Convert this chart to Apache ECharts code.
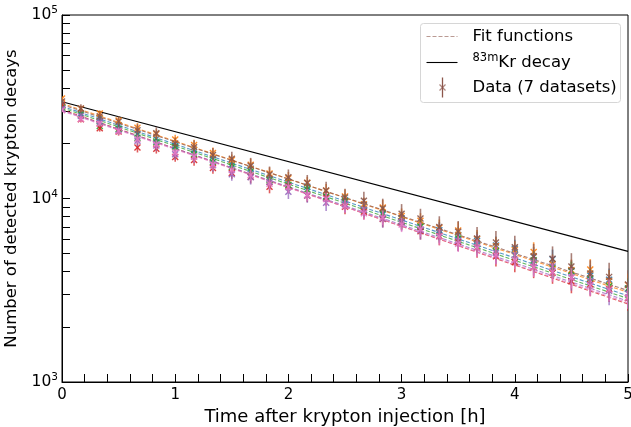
<!DOCTYPE html>
<html>
<head>
<meta charset="utf-8">
<script src="https://cdn.jsdelivr.net/npm/echarts@6/dist/echarts.min.js"></script>
<style>
html,body{margin:0;padding:0;background:#fff;}
#chart{width:631px;height:427px;}
</style>
</head>
<body>
<div id="chart"></div>
<script>
// ---- data ----
var times = [0, 0.1667, 0.3333, 0.5, 0.6667, 0.8333, 1, 1.1667, 1.3333, 1.5, 1.6667, 1.8333, 2, 2.1667, 2.3333, 2.5, 2.6667, 2.8333, 3, 3.1667, 3.3333, 3.5, 3.6667, 3.8333, 4, 4.1667, 4.3333, 4.5, 4.6667, 4.8333, 5];

var dataBlue   = [32440, 29080, 27410, 25070, 22470, 21180, 19370, 18440, 16360, 15270, 14540, 12770, 12290, 11580, 10270, 9780, 9220, 8180, 7790, 7050, 6710, 6320, 5890, 5550, 5320, 4820, 4660, 4040, 3800, 3610, 3220];
var dataOrange = [35060, 30860, 29070, 26590, 24330, 22470, 20970, 19560, 17720, 16210, 15270, 13690, 12910, 12150, 11010, 10270, 9300, 8940, 8020, 7560, 6920, 6700, 6010, 5500, 5240, 5110, 4380, 4080, 4100, 3550, 3380];
var dataGreen  = [31310, 28640, 24870, 23950, 21450, 20230, 19080, 17440, 15790, 14890, 14030, 12580, 11860, 11180, 10220, 9630, 8630, 8300, 7520, 7020, 6480, 6050, 5640, 5160, 4910, 4610, 4190, 4020, 3670, 3330, 3230];
var dataRed    = [32330, 27000, 24110, 23180, 18950, 18690, 16850, 16220, 14650, 13790, 13120, 11600, 11620, 10390, 10060, 9010, 8470, 7740, 7480, 6640, 6240, 5810, 5410, 4840, 4500, 4230, 3940, 3540, 3410, 3210, 2870];
var dataPurple = [30800, 28170, 26270, 23530, 20630, 19460, 17410, 16930, 15160, 13550, 13060, 12310, 10900, 10390, 9490, 9310, 8680, 7790, 7480, 6710, 6500, 5890, 5650, 5070, 4910, 4440, 4260, 3720, 3530, 3140, 3040];
var dataBrown  = [33800, 30970, 28100, 26240, 23570, 22690, 19970, 19040, 17270, 16460, 15080, 13530, 13040, 12170, 11050, 10120, 9730, 8830, 8250, 7780, 7000, 6590, 6050, 5760, 5420, 4840, 4690, 4260, 3900, 3740, 3400];
var dataPink   = [30300, 27140, 25550, 23340, 21110, 19680, 17790, 16930, 15310, 14280, 13440, 12040, 11560, 10460, 9950, 9090, 8300, 7890, 7210, 6790, 6200, 5670, 5390, 4920, 4630, 4230, 3980, 3700, 3360, 3180, 2890];

// relative uncertainty (%) per time bin, and per-dataset scale of the bar length
var relErrPct = [3, 4, 4, 5, 6, 6, 6, 7, 7, 7, 8, 8, 8, 8, 9, 9, 9, 10, 10, 10, 11, 11, 12, 12, 12, 13, 13, 14, 14, 15, 15];
var errScale  = [1.0, 1.0, 0.9, 1.0, 1.1, 1.3, 0.9];

// fit functions: value at t = 0 h and at t = 5 h (straight on a log axis)
var fitStart = [31800, 33000, 31200, 30500, 30200, 32500, 30000];
var fitEnd   = [2950, 3080, 2850, 2660, 2760, 3150, 2700];

// 83mKr decay reference curve: endpoints
var krTimes  = [0, 5];
var krValues = [33700, 5150];

var datasetNames = ['Dataset 1', 'Dataset 2', 'Dataset 3', 'Dataset 4', 'Dataset 5', 'Dataset 6', 'Dataset 7'];
var xLabelTicks = [0, 1, 2, 3, 4, 5];
var xMinorTicks = [0, 0.2, 0.4, 0.6, 0.8, 1, 1.2, 1.4, 1.6, 1.8, 2, 2.2, 2.4, 2.6, 2.8, 3, 3.2, 3.4, 3.6, 3.8, 4, 4.2, 4.4, 4.6, 4.8, 5];
var yLabelTicks = [1000, 10000, 100000];
var yAllTicks = [1000, 2000, 3000, 4000, 5000, 6000, 7000, 8000, 9000, 10000, 20000, 30000, 40000, 50000, 60000, 70000, 80000, 90000, 100000];

// ---- styling ----
var colors = ['#1f77b4', '#ff7f0e', '#2ca02c', '#d62728', '#9467bd', '#8c564b', '#e377c2'];
var FONT = 'DejaVu Sans';

var allData = [dataBlue, dataOrange, dataGreen, dataRed, dataPurple, dataBrown, dataPink];

var series = [];

// fit lines
allData.forEach(function (d, i) {
  series.push({
    type: 'line',
    name: 'fit ' + datasetNames[i],
    data: [[0, fitStart[i]], [5, fitEnd[i]]],
    showSymbol: false,
    symbol: 'none',
    silent: true,
    z: 2,
    lineStyle: { color: colors[i], width: 1.1, type: [4, 2], opacity: 0.75 }
  });
});

// Kr decay line
series.push({
  type: 'line',
  name: '83mKr decay',
  data: krTimes.map(function (t, k) { return [t, krValues[k]]; }),
  showSymbol: false,
  symbol: 'none',
  silent: true,
  z: 3,
  lineStyle: { color: '#000', width: 1.1 }
});

// data with error bars
allData.forEach(function (d, i) {
  var items = d.map(function (v, k) {
    var e = v * relErrPct[k] / 100 * errScale[i];
    return [times[k], v, v - e, v + e];
  });
  series.push({
    type: 'custom',
    name: datasetNames[i],
    data: items,
    z: 4,
    clip: true,
    encode: { x: 0, y: 1 },
    renderItem: function (params, api) {
      var c = api.coord([api.value(0), api.value(1)]);
      var lo = api.coord([api.value(0), api.value(2)]);
      var hi = api.coord([api.value(0), api.value(3)]);
      var s = 3;
      var col = colors[i];
      return {
        type: 'group',
        children: [
          { type: 'line', shape: { x1: lo[0], y1: lo[1], x2: hi[0], y2: hi[1] },
            style: { stroke: col, lineWidth: 1.6, opacity: 0.75 } },
          { type: 'line', shape: { x1: c[0] - s, y1: c[1] - s, x2: c[0] + s, y2: c[1] + s },
            style: { stroke: col, lineWidth: 1.4, opacity: 0.9 } },
          { type: 'line', shape: { x1: c[0] - s, y1: c[1] + s, x2: c[0] + s, y2: c[1] - s },
            style: { stroke: col, lineWidth: 1.4, opacity: 0.9 } }
        ]
      };
    }
  });
});

var legendX = 420, legendY = 23;
var option = {
  animation: false,
  backgroundColor: '#fff',
  textStyle: { fontFamily: FONT },
  grid: { left: 62, right: 3, top: 15, bottom: 45, outerBoundsMode: 'none', containLabel: false,
          show: true, borderColor: '#000', borderWidth: 1, backgroundColor: 'transparent' },
  xAxis: {
    type: 'value', min: 0, max: 5, interval: 1,
    name: 'Time after krypton injection [h]',
    nameLocation: 'middle', nameGap: 20,
    nameTextStyle: { fontSize: 18, color: '#000', fontFamily: FONT },
    axisLine: { show: true, lineStyle: { color: '#000', width: 1 } },
    axisTick: { show: true, inside: true, length: 8, customValues: xMinorTicks, lineStyle: { color: '#000', width: 1 } },
    axisLabel: { show: true, customValues: xLabelTicks, fontSize: 15, color: '#000', margin: 6, fontFamily: FONT },
    splitLine: { show: false }
  },
  yAxis: {
    type: 'log', logBase: 10, min: 1000, max: 100000,
    name: 'Number of detected krypton decays',
    nameLocation: 'middle', nameGap: 36, nameRotate: 90,
    nameTextStyle: { fontSize: 16.5, color: '#000', fontFamily: FONT },
    axisLine: { show: true, lineStyle: { color: '#000', width: 1 } },
    axisTick: { show: true, inside: true, length: 8, customValues: yAllTicks, lineStyle: { color: '#000', width: 1 } },
    axisLabel: {
      show: true, customValues: yLabelTicks, margin: 4, color: '#000',
      formatter: function (v) {
        var e = Math.round(Math.log10(v));
        return '{b|10}{s|' + e + '}';
      },
      rich: {
        b: { fontSize: 15.5, color: '#000', fontFamily: FONT },
        s: { fontSize: 10.5, color: '#000', fontFamily: FONT, padding: [0, 0, 9, 0] }
      }
    },
    splitLine: { show: false }
  },
  series: series,
  graphic: [
    {
      type: 'group', left: legendX, top: legendY,
      children: [
        { type: 'rect', shape: { x: 0, y: 0, width: 200, height: 79, r: 3 },
          style: { fill: 'rgba(255,255,255,0.85)', stroke: '#d6d6d6', lineWidth: 1 } },
        { type: 'line', shape: { x1: 6, y1: 13, x2: 37, y2: 13 },
          style: { stroke: '#8c564b', lineWidth: 1.1, lineDash: [4, 2], opacity: 0.6 } },
        { type: 'text', x: 52, y: 13,
          style: { text: 'Fit functions', fontSize: 16.5, fontFamily: FONT, fill: '#000', verticalAlign: 'middle' } },
        { type: 'line', shape: { x1: 6, y1: 39, x2: 37, y2: 39 },
          style: { stroke: '#000', lineWidth: 1.1 } },
        { type: 'text', x: 52, y: 39,
          style: {
            text: '{s|83m}{n|Kr decay}', verticalAlign: 'middle',
            rich: {
              s: { fontSize: 11.5, fontFamily: FONT, fill: '#000', padding: [0, 0, 9, 0] },
              n: { fontSize: 16.5, fontFamily: FONT, fill: '#000' }
            }
          } },
        { type: 'line', shape: { x1: 22, y1: 54, x2: 22, y2: 74 },
          style: { stroke: '#8c564b', lineWidth: 1.3 } },
        { type: 'line', shape: { x1: 19, y1: 61, x2: 25, y2: 67 },
          style: { stroke: '#8c564b', lineWidth: 1.3, opacity: 0.7 } },
        { type: 'line', shape: { x1: 19, y1: 67, x2: 25, y2: 61 },
          style: { stroke: '#8c564b', lineWidth: 1.3, opacity: 0.7 } },
        { type: 'text', x: 52, y: 64,
          style: { text: 'Data (7 datasets)', fontSize: 16.5, fontFamily: FONT, fill: '#000', verticalAlign: 'middle' } }
      ]
    }
  ]
};

var chart = echarts.init(document.getElementById('chart'), null, { renderer: 'canvas' });
chart.setOption(option);
</script>
</body>
</html>
